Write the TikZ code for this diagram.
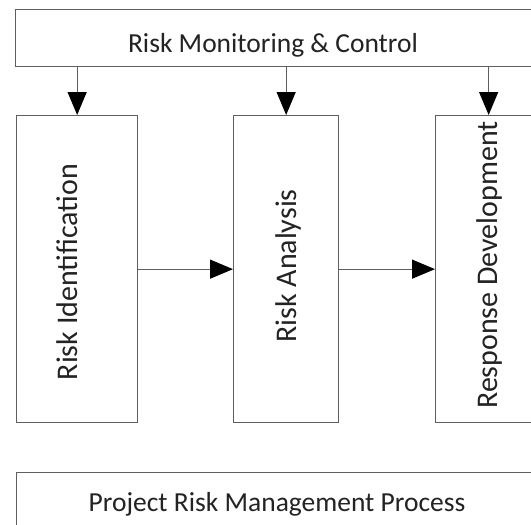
\documentclass[tikz,border=0pt]{standalone}
\usepackage{fontspec}
\setmainfont{Carlito}
\usepackage{tikz}
\usetikzlibrary{arrows.meta}
\definecolor{boxline}{RGB}{95,95,95}
\definecolor{labeltext}{RGB}{35,35,35}
\tikzstyle{box}=[draw=boxline, line width=1.3pt, fill=white, shape=rectangle, inner sep=0pt, anchor=north west]
\tikzstyle{label}=[text=labeltext, font=\fontsize{27.5}{33}\selectfont, inner sep=0pt, anchor=base]
\tikzstyle{vlabel}=[label, font=\fontsize{30}{36}\selectfont, rotate=90]
\tikzstyle{flow}=[draw=boxline, line width=1.3pt, -{Triangle[length=23pt, width=19pt, fill=black, color=black]}]

\begin{document}
\begin{tikzpicture}[x=1pt, y=-1pt]
\useasboundingbox (0,0) rectangle (531,525);
\clip (0,0) rectangle (531,525);
\fill[white] (0,0) rectangle (531,525);
\node[box, minimum width=517pt, minimum height=57pt] at (15,9) (Mon) {};
\node[box, minimum width=121pt, minimum height=307pt] at (16,115) (Ident) {};
\node[box, minimum width=105pt, minimum height=307pt] at (233,115) (Anal) {};
\node[box, minimum width=106pt, minimum height=307pt] at (435,115) (Resp) {};
\node[box, minimum width=522pt, minimum height=64pt] at (16,472) (Proc) {};
\node[label] at (273,52) (MonT) {Risk Monitoring \& Control};
\node[vlabel] at (77,272) (IdentT) {Risk Identification};
\node[vlabel] at (296,266) (AnalT) {Risk Analysis};
\node[vlabel] at (497,265) (RespT) {Response Development};
\node[label] at (277,511) (ProcT) {Project Risk Management Process};
\draw[flow] (Mon.south -| Ident.north) -- (Ident.north);
\draw[flow] (Mon.south -| Anal.north) -- (Anal.north);
\draw[flow] (Mon.south -| Resp.north) -- (Resp.north);
\draw[flow] (Ident.east) -- (Anal.west);
\draw[flow] (Anal.east) -- (Resp.west);
\end{tikzpicture}
\end{document}
